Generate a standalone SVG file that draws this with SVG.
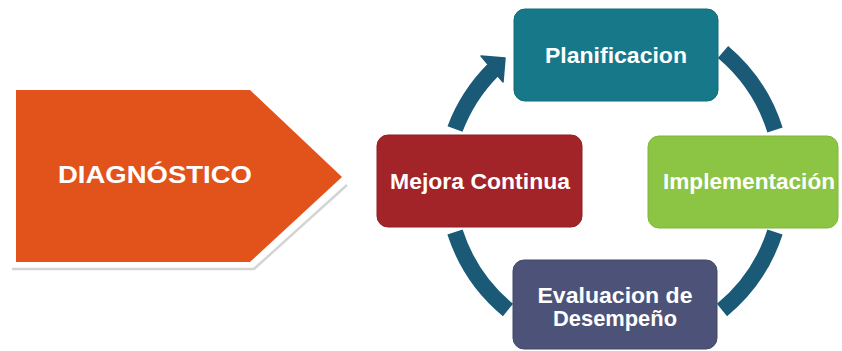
<svg xmlns="http://www.w3.org/2000/svg" width="842" height="351" viewBox="0 0 842 351">
  <style>
    .lbl { font-family: "Liberation Sans", Arial, sans-serif; font-weight: bold; fill: #ffffff; text-anchor: middle; }
    .arc { fill: none; stroke: #1a5a77; stroke-width: 16; stroke-linecap: butt; }
    .box { stroke-width: 1; }
  </style>
  <rect width="842" height="351" fill="#ffffff"/>

  <!-- diagnosis pentagon with a soft lower edge shadow -->
  <g id="diagnostico">
    <polyline points="12,269 254,269 347,185" fill="none" stroke="#d4d4d4" stroke-width="2.5"/>
    <polygon points="16,90 250,90 342,177 250,262 16,262" fill="#e2531c"/>
    <text class="lbl" x="155" y="183" font-size="23" textLength="194" lengthAdjust="spacingAndGlyphs">DIAGNÓSTICO</text>
  </g>

  <!-- cycle connectors -->
  <g id="connectors">
    <path class="arc" d="M 455,129 A 168,168 0 0 1 493,70"/>
    <polygon points="481,56 505,58 503,82" fill="#1a5a77" stroke="#1a5a77" stroke-width="1.5" stroke-linejoin="round"/>
    <path class="arc" d="M 723,52 A 168,168 0 0 1 775,130"/>
    <path class="arc" d="M 775,232 A 168,168 0 0 1 722,310"/>
    <path class="arc" d="M 508,310 A 168,168 0 0 1 455,232"/>
  </g>

  <g id="planificacion">
    <rect class="box" x="514" y="9" width="204" height="92" rx="11" fill="#177889" stroke="#136a79"/>
    <text class="lbl" x="616" y="63" font-size="22" textLength="142" lengthAdjust="spacingAndGlyphs">Planificacion</text>
  </g>

  <g id="implementacion">
    <rect class="box" x="648" y="136" width="190" height="92" rx="11" fill="#8cc443" stroke="#7fb63a"/>
    <text class="lbl" x="749" y="189" font-size="22" textLength="172" lengthAdjust="spacingAndGlyphs">Implementación</text>
  </g>

  <g id="evaluacion">
    <rect class="box" x="513" y="260" width="204" height="89" rx="11" fill="#4d5378" stroke="#434969"/>
    <text class="lbl" x="615" y="303" font-size="22" textLength="155" lengthAdjust="spacingAndGlyphs">Evaluacion de</text>
    <text class="lbl" x="615" y="326" font-size="22" textLength="124" lengthAdjust="spacingAndGlyphs">Desempeño</text>
  </g>

  <g id="mejora">
    <rect class="box" x="377" y="135" width="205" height="92" rx="11" fill="#a22429" stroke="#8f1f24"/>
    <text class="lbl" x="480" y="189" font-size="22" textLength="180" lengthAdjust="spacingAndGlyphs">Mejora Continua</text>
  </g>
</svg>
